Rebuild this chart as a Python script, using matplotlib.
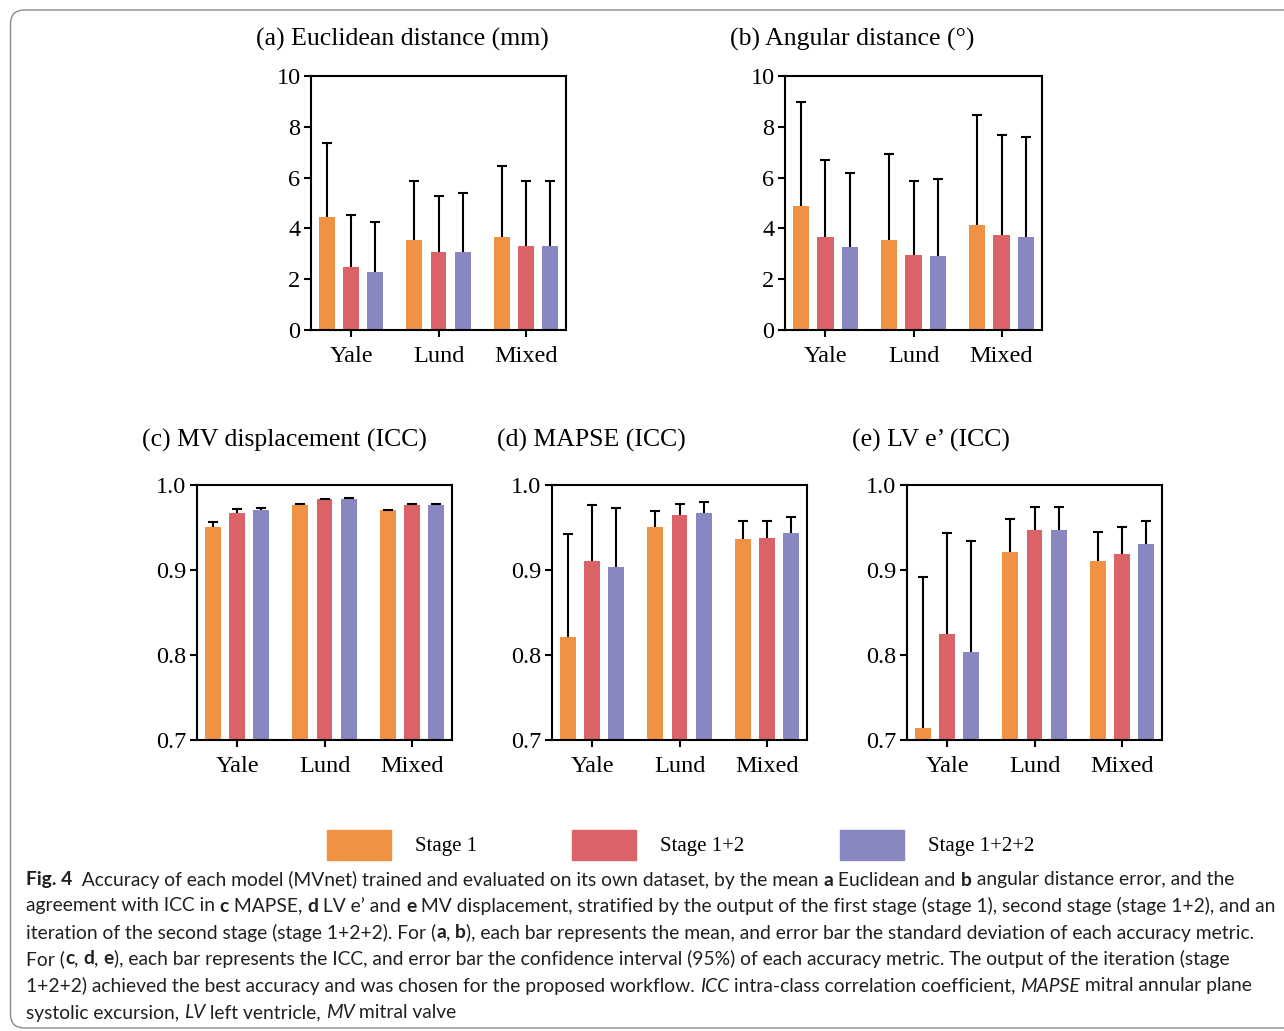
import matplotlib
matplotlib.use("Agg")
import matplotlib.pyplot as plt
from matplotlib import font_manager
from matplotlib.font_manager import FontProperties
from matplotlib.patches import FancyBboxPatch, Rectangle
from matplotlib.transforms import IdentityTransform
import numpy as np

W, H = 1284, 1031

groups = ["Yale", "Lund", "Mixed"]
stages = ["Stage 1", "Stage 1+2", "Stage 1+2+2"]
colors = ["#EF9244", "#DB6368", "#8887BF"]

# (a) Euclidean distance (mm): mean and SD, rows = stage, cols = group
eucl_mean = [[4.46, 3.55, 3.67], [2.49, 3.07, 3.32], [2.29, 3.07, 3.32]]
eucl_sd = [[2.92, 2.32, 2.79], [2.02, 2.22, 2.55], [1.96, 2.34, 2.55]]

# (b) Angular distance (deg)
ang_mean = [[4.88, 3.55, 4.14], [3.67, 2.96, 3.75], [3.28, 2.92, 3.67]]
ang_sd = [[4.10, 3.37, 4.33], [3.03, 2.92, 3.94], [2.89, 3.04, 3.91]]

# (c) MV displacement ICC and upper 95% CI
mv_icc = [[0.950, 0.977, 0.970], [0.967, 0.983, 0.976], [0.970, 0.984, 0.977]]
mv_hi = [[0.956, 0.978, 0.971], [0.972, 0.984, 0.978], [0.973, 0.985, 0.978]]

# (d) MAPSE ICC
mapse_icc = [[0.821, 0.950, 0.937], [0.911, 0.965, 0.938], [0.904, 0.967, 0.943]]
mapse_hi = [[0.942, 0.969, 0.958], [0.976, 0.978, 0.958], [0.973, 0.980, 0.962]]

# (e) LV e' ICC
lve_icc = [[0.714, 0.921, 0.910], [0.825, 0.947, 0.919], [0.803, 0.947, 0.930]]
lve_hi = [[0.892, 0.960, 0.945], [0.944, 0.974, 0.951], [0.934, 0.974, 0.958]]

serif = "Liberation Serif"
fig = plt.figure(figsize=(W / 100, H / 100), dpi=100)


def px_axes(left, top, right, bottom):
    return fig.add_axes([left / W, 1 - bottom / H, (right - left) / W, (bottom - top) / H])


def bar_panel(ax, means, err, ylim, yticks, yticklabels, title):
    x = np.arange(len(groups))
    offs = [-0.275, 0.0, 0.275]
    for i in range(len(stages)):
        m = np.array(means[i])
        e = np.array(err[i])
        ax.bar(x + offs[i], m, width=0.183, color=colors[i], zorder=2)
        # upper half only, cap at the top
        ax.vlines(x + offs[i], m, m + e, color="black", linewidth=1.5, zorder=3)
        ax.plot(x + offs[i], m + e, ls="none", marker="_", ms=7, mew=1.5,
                color="black", zorder=3)
    ax.set_xlim(-0.46, 2.46)
    ax.set_ylim(*ylim)
    ax.set_xticks(x)
    ax.set_xticklabels(groups)
    ax.set_yticks(yticks)
    ax.set_yticklabels(yticklabels)
    for s in ax.spines.values():
        s.set_linewidth(1.5)
        s.set_zorder(4)
    ax.tick_params(axis="both", width=1.5, length=5, labelsize=17.5, pad=2.5)
    ax.tick_params(axis="x", pad=6.5)
    for lab in ax.get_xticklabels() + ax.get_yticklabels():
        lab.set_family(serif)
    pos = ax.get_position()
    fig.text(pos.x0 - 55 / W, pos.y1 + title[1] / H, title[0], family=serif,
             fontsize=18.5, ha="left", va="center")


ax_a = px_axes(311, 76, 566, 330)
bar_panel(ax_a, eucl_mean, eucl_sd, (0, 10), [0, 2, 4, 6, 8, 10],
          ["0", "2", "4", "6", "8", "10"], ("(a) Euclidean distance (mm)", 37))
ax_b = px_axes(785, 76, 1042, 330)
bar_panel(ax_b, ang_mean, ang_sd, (0, 10), [0, 2, 4, 6, 8, 10],
          ["0", "2", "4", "6", "8", "10"], ("(b) Angular distance (°)", 37))

icc_ticks = [0.7, 0.8, 0.9, 1.0]
icc_labels = ["0.7", "0.8", "0.9", "1.0"]
for left, right, icc, hi, ttl in [
        (197, 452, mv_icc, mv_hi, "(c) MV displacement (ICC)"),
        (552, 807, mapse_icc, mapse_hi, "(d) MAPSE (ICC)"),
        (907, 1162, lve_icc, lve_hi, "(e) LV e’ (ICC)")]:
    ax = px_axes(left, 485, right, 740)
    up = np.array(hi) - np.array(icc)
    bar_panel(ax, icc, up, (0.7, 1.0), icc_ticks, icc_labels, (ttl, 45))

# legend
leg_x = [327, 572, 840]
for i, lab in enumerate(stages):
    fig.patches.append(Rectangle((leg_x[i] / W, 1 - 860 / H), 64 / W, 30 / H,
                                 transform=fig.transFigure, color=colors[i]))
    fig.text((leg_x[i] + 88) / W, 1 - 846 / H, lab, family=serif, fontsize=15,
             ha="left", va="center")

# frame around the figure
fig.patches.append(FancyBboxPatch((10.5, 3), 1320, 1018, boxstyle="round,pad=0,rounding_size=14",
                                  transform=IdentityTransform(), facecolor="none",
                                  edgecolor="#8a8a8a", linewidth=1.0))

# caption
cap_family = "Liberation Sans"
for cand in ["Liberation Sans Narrow", "DejaVu Sans Condensed", "Lato", "Liberation Sans"]:
    try:
        font_manager.findfont(FontProperties(family=cand), fallback_to_default=False)
        cap_family = cand
        break
    except Exception:
        pass

B, I, N = "bold", "italic", "normal"
caption = [
    [("Fig. 4", B), ("  Accuracy of each model (MVnet) trained and evaluated on its own dataset, by the mean ", N),
     ("a", B), (" Euclidean and ", N), ("b", B), (" angular distance error, and the", N)],
    [("agreement with ICC in ", N), ("c", B), (" MAPSE, ", N), ("d", B), (" LV e’ and ", N), ("e", B),
     (" MV displacement, stratified by the output of the first stage (stage 1), second stage (stage 1+2), and an", N)],
    [("iteration of the second stage (stage 1+2+2). For (", N), ("a", B), (", ", N), ("b", B),
     ("), each bar represents the mean, and error bar the standard deviation of each accuracy metric.", N)],
    [("For (", N), ("c", B), (", ", N), ("d", B), (", ", N), ("e", B),
     ("), each bar represents the ICC, and error bar the confidence interval (95%) of each accuracy metric. The output of the iteration (stage", N)],
    [("1+2+2) achieved the best accuracy and was chosen for the proposed workflow. ", N), ("ICC", I),
     (" intra-class correlation coefficient, ", N), ("MAPSE", I), (" mitral annular plane", N)],
    [("systolic excursion, ", N), ("LV", I), (" left ventricle, ", N), ("MV", I), (" mitral valve", N)],
]
cap_y = [880, 906, 933, 959, 986, 1013]

renderer = fig.canvas.get_renderer()


def run_width(text, style, size):
    fp = FontProperties(family=cap_family, size=size,
                        weight="bold" if style == B else "normal",
                        style="italic" if style == I else "normal")
    w1, _, _ = renderer.get_text_width_height_descent(text + "x", fp, ismath=False)
    w2, _, _ = renderer.get_text_width_height_descent("x", fp, ismath=False)
    return w1 - w2


base = 13.0
w_line2 = sum(run_width(t, s, base) for t, s in caption[1])
cap_size = min(14.0, base * 1250 / w_line2)

for y, runs in zip(cap_y, caption):
    x = 26
    for t, s in runs:
        fig.text(x / W, 1 - y / H, t, family=cap_family, fontsize=cap_size,
                 weight="bold" if s == B else "normal",
                 style="italic" if s == I else "normal",
                 ha="left", va="center", color="#231f20")
        x += run_width(t, s, cap_size)

fig.savefig("out.png", dpi=100)
